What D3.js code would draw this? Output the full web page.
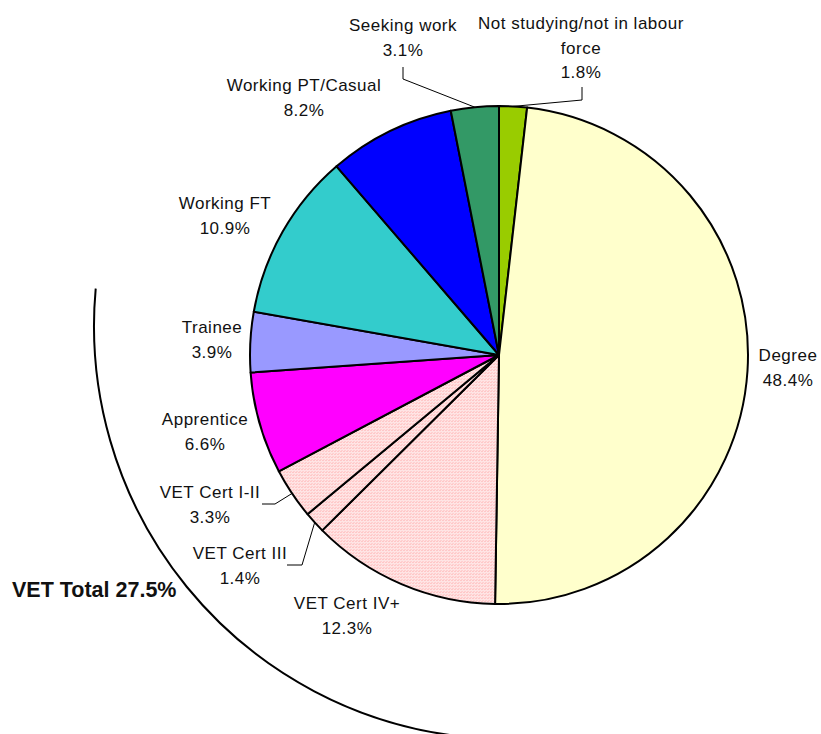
<!DOCTYPE html>
<html>
<head>
<meta charset="utf-8">
<script src="https://cdn.jsdelivr.net/npm/d3@7"></script>
<style>
  body { margin: 0; background: #fff; }
  svg text { font-family: "Liberation Sans", Arial, sans-serif; fill: #111; }
</style>
</head>
<body>
<svg width="821" height="734"></svg>
<script>
// slices in order, clockwise from 12 o'clock
var categories = ["Not studying/not in labour force", "Degree", "VET Cert IV+", "VET Cert III",
                  "VET Cert I-II", "Apprentice", "Trainee", "Working FT", "Working PT/Casual", "Seeking work"];
var values = [1.8, 48.4, 12.3, 1.4, 3.3, 6.6, 3.9, 10.9, 8.2, 3.1];
var colors = ["#99cc00", "#ffffcc", "url(#vet)", "url(#vet)", "url(#vet)",
              "#ff00ff", "#9999ff", "#33cccc", "#0000ff", "#339966"];
// label lines as shown (text, then percent)
var labelLines = [["Not studying/not in labour", "force", "1.8%"], ["Degree", "48.4%"], ["VET Cert IV+", "12.3%"],
                  ["VET Cert III", "1.4%"], ["VET Cert I-II", "3.3%"], ["Apprentice", "6.6%"], ["Trainee", "3.9%"],
                  ["Working FT", "10.9%"], ["Working PT/Casual", "8.2%"], ["Seeking work", "3.1%"]];
var vetTotal = "VET Total 27.5%";

var svg = d3.select("svg");
var cx = 499, cy = 355, r = 249;

// pink dotted fill for the VET slices
var pat = svg.append("defs").append("pattern")
    .attr("id", "vet").attr("width", 3).attr("height", 3)
    .attr("patternUnits", "userSpaceOnUse");
pat.append("rect").attr("width", 3).attr("height", 3).attr("fill", "#ffe4e4");
pat.append("rect").attr("width", 2).attr("height", 1).attr("fill", "#ffc8c8");
pat.append("rect").attr("x", 1).attr("y", 2).attr("width", 2).attr("height", 1).attr("fill", "#ffd0d0");

var pie = d3.pie().sort(null).value(d => d);
var arcs = pie(values);
var arc = d3.arc().innerRadius(0).outerRadius(r);

var g = svg.append("g").attr("transform", "translate(" + cx + "," + cy + ")");
g.selectAll("path.slice")
  .data(arcs)
  .enter().append("path")
    .attr("class", "slice")
    .attr("d", arc)
    .attr("fill", (d, i) => colors[i])
    .attr("stroke", "#000")
    .attr("stroke-width", 2)
    .attr("stroke-linejoin", "round");

// label positions (center of text block, first line baseline)
var labelPos = [[581, 29], [788, 361], [347, 609], [240, 559], [210, 498], [205, 425], [212, 333],
                [225, 209], [304, 91], [403, 31]];
var lh = 24.5;

labelLines.forEach(function(lines, i) {
  var t = svg.append("text")
      .attr("text-anchor", "middle")
      .attr("font-size", 17)
      .attr("letter-spacing", 0.5);
  lines.forEach(function(s, j) {
    t.append("tspan").attr("x", labelPos[i][0]).attr("y", labelPos[i][1] + j * lh).text(s);
  });
});

// leader lines: from near the label to the slice's outer midpoint
function edgePoint(i) {
  var a = (arcs[i].startAngle + arcs[i].endAngle) / 2;
  return [cx + r * Math.sin(a), cy - r * Math.cos(a)];
}
var leaders = [
  {i: 0, pts: [[582, 87], [582, 100]]},
  {i: 9, pts: [[403, 67], [403, 79]]},
  {i: 4, pts: [[262, 504], [275, 504]]},
  {i: 3, pts: [[287, 565], [302, 565]]}
];
var line = d3.line();
leaders.forEach(function(l) {
  svg.append("path")
    .attr("d", line(l.pts.concat([edgePoint(l.i)])))
    .attr("fill", "none")
    .attr("stroke", "#000")
    .attr("stroke-width", 1);
});

// big bracket arc around the VET slices
var bracket = d3.arc()
    .innerRadius(413).outerRadius(413)
    .startAngle(186.5 * Math.PI / 180)
    .endAngle(275.2 * Math.PI / 180);
svg.append("path")
    .attr("transform", "translate(507,326)")
    .attr("d", bracket())
    .attr("fill", "none")
    .attr("stroke", "#000")
    .attr("stroke-width", 2);

svg.append("text")
    .attr("x", 12).attr("y", 597)
    .attr("font-size", 21.5)
    .attr("font-weight", "bold")
    .text(vetTotal);
</script>
</body>
</html>
